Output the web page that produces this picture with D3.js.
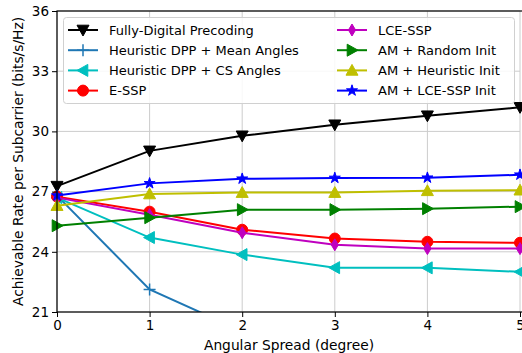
<!DOCTYPE html>
<html><head><meta charset="utf-8">
<script src="https://cdn.jsdelivr.net/npm/d3@7"></script>
<style>body{margin:0;background:#fff;} svg{display:block;font-family:"DejaVu Sans",sans-serif;}</style>
</head><body>
<svg id="c" width="522" height="353"></svg>
<script>
const spread = [0, 1, 2, 3, 4, 5];
const xTicks = [0, 1, 2, 3, 4, 5];
const yTicks = [21, 24, 27, 30, 33, 36];
const seriesNames = ["Fully-Digital Precoding","Heuristic DPP + Mean Angles","Heuristic DPP + CS Angles","E-SSP","LCE-SSP","AM + Random Init","AM + Heuristic Init","AM + LCE-SSP Init"];
const fullyDigital = [27.27, 29.03, 29.78, 30.33, 30.78, 31.2];
const heurMean = [26.8, 22.12, 20.05, 19.3, 18.7, 18.2];
const heurCS = [26.7, 24.71, 23.86, 23.21, 23.2, 23.0];
const eSSP = [26.75, 26.0, 25.1, 24.66, 24.5, 24.45];
const lceSSP = [26.7, 25.85, 24.95, 24.35, 24.16, 24.16];
const amRandom = [25.3, 25.7, 26.1, 26.1, 26.15, 26.25];
const amHeur = [26.3, 26.88, 26.95, 26.95, 27.04, 27.07];
const amLce = [26.8, 27.41, 27.64, 27.68, 27.69, 27.84];

const allValues = [fullyDigital, heurMean, heurCS, eSSP, lceSSP, amRandom, amHeur, amLce];
const colors = ["#000000","#1f77b4","#00bfbf","#ff0000","#bf00bf","#008000","#bfbf00","#0000ff"];
const markers = ["tdown","plus","tleft","circle","thindiamond","tright","tup","star"];

const svg = d3.select("#c");
const L = 57, R = 520, T = 11, B = 312;
const x = d3.scaleLinear().domain([0,5]).range([L,R]);
const y = d3.scaleLinear().domain([21,36]).range([B,T]);

svg.append("defs").append("clipPath").attr("id","clip")
  .append("rect").attr("x",L-8).attr("y",T).attr("width",R-L+16).attr("height",B-T);

// grid
const grid = svg.append("g");
xTicks.forEach(t=>grid.append("line").attr("x1",x(t)).attr("x2",x(t)).attr("y1",T).attr("y2",B).attr("stroke","#cccccc").attr("stroke-width",1));
yTicks.forEach(t=>grid.append("line").attr("x1",L).attr("x2",R).attr("y1",y(t)).attr("y2",y(t)).attr("stroke","#cccccc").attr("stroke-width",1));

function markerPath(type, s){
  const r = s/2;
  switch(type){
    case "tdown": return `M${-r},${-r*0.8}L${r},${-r*0.8}L0,${r}Z`;
    case "tup": return `M${-r},${r*0.8}L${r},${r*0.8}L0,${-r}Z`;
    case "tleft": return `M${r*0.8},${-r}L${r*0.8},${r}L${-r},0Z`;
    case "tright": return `M${-r*0.8},${-r}L${-r*0.8},${r}L${r},0Z`;
    case "plus": return `M${-r},0L${r},0M0,${-r}L0,${r}`;
    case "circle": return `M${r},0A${r},${r} 0 1,1 ${-r},0A${r},${r} 0 1,1 ${r},0Z`;
    case "thindiamond": return `M0,${-r}L${r*0.6},0L0,${r}L${-r*0.6},0Z`;
    case "star": return d3.symbol().type(d3.symbolStar).size(38)();
  }
}
const msize = mk => mk==="circle" ? 11 : 12;

const plot = svg.append("g").attr("clip-path","url(#clip)");
const line = d3.line().x((d,i)=>x(spread[i])).y(d=>y(d));
allValues.forEach((vals,k)=>{
  const g = plot.append("g");
  g.append("path").attr("d",line(vals)).attr("fill","none").attr("stroke",colors[k]).attr("stroke-width",2);
  vals.forEach((v,i)=>{
    const mk = markers[k];
    const p = g.append("path").attr("d",markerPath(mk, msize(mk))).attr("transform",`translate(${x(spread[i])},${y(v)})`);
    if(mk==="plus") p.attr("fill","none").attr("stroke",colors[k]).attr("stroke-width",1.5);
    else p.attr("fill",colors[k]).attr("stroke",colors[k]).attr("stroke-width",1);
  });
});

// axes
const xa = svg.append("g").attr("transform",`translate(0,${B})`).call(d3.axisBottom(x).tickValues(xTicks).tickFormat(d3.format("d")).tickSizeOuter(0).tickSize(5).tickPadding(3));
const ya = svg.append("g").attr("transform",`translate(${L},0)`).call(d3.axisLeft(y).tickValues(yTicks).tickFormat(d3.format("d")).tickSizeOuter(0).tickSize(5).tickPadding(3));
[xa,ya].forEach(a=>{a.selectAll("text").attr("font-size",13.5).attr("font-family","DejaVu Sans").attr("fill","#000");a.selectAll("line").attr("stroke","#000").attr("stroke-width",1);a.select(".domain").remove();});
// spines
svg.append("rect").attr("x",L).attr("y",T).attr("width",R-L+5).attr("height",B-T).attr("fill","none").attr("stroke","#000").attr("stroke-width",1.2);

svg.append("text").attr("x",(L+R)/2 + 0.5).attr("y",350).attr("text-anchor","middle").attr("font-size",13.8).text("Angular Spread (degree)");
svg.append("text").attr("transform",`translate(23,${(T+B)/2}) rotate(-90)`).attr("text-anchor","middle").attr("font-size",13.8).text("Achievable Rate per Subcarrier (bits/s/Hz)");

// legend
const lg = svg.append("g");
lg.append("rect").attr("x",63.5).attr("y",17.5).attr("width",451).attr("height",86).attr("rx",3).attr("fill","#fff").attr("fill-opacity",0.85).attr("stroke","#d0d0d0");
seriesNames.forEach((n,k)=>{
  const col = Math.floor(k/4), row = k%4;
  const lx = col===0 ? 68 : 337;
  const ly = 30 + row*20.2;
  lg.append("line").attr("x1",lx).attr("x2",lx+30).attr("y1",ly).attr("y2",ly).attr("stroke",colors[k]).attr("stroke-width",2);
  const mk = markers[k];
  const p = lg.append("path").attr("d",markerPath(mk, msize(mk))).attr("transform",`translate(${lx+15},${ly})`);
  if(mk==="plus") p.attr("fill","none").attr("stroke",colors[k]).attr("stroke-width",1.5);
  else p.attr("fill",colors[k]).attr("stroke",colors[k]);
  lg.append("text").attr("x",lx+41).attr("y",ly+4.5).attr("font-size",13).text(n);
});
</script>
</body></html>
